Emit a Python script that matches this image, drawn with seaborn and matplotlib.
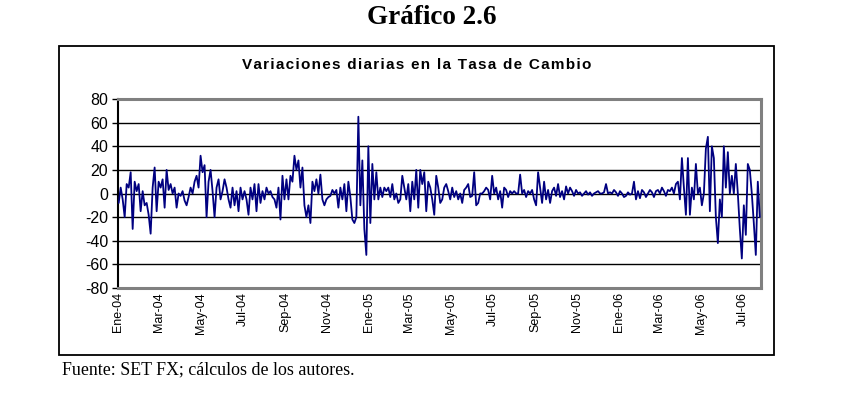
import numpy as np
import pandas as pd
import matplotlib
matplotlib.use("Agg")
import matplotlib.pyplot as plt
from matplotlib.patches import Rectangle
import seaborn as sns

# ---- data (one value about every 3 calendar days) ----
seg_2004a = [-8, 5, -5, -20, 8, 5, 18, -30, 10, 2, 8, -15, 2, -10, -8, -18, -34, 5, 22, -15,
             10, 5, 12, -12, 20, 3, 8, 0, 5, -12, 0, -2, 2, -6, -10, -3, 5, 0, 10, 15,
             5, 32, 18, 24, -20, 10, 20, 2, -20, 5, 12, -5, 2, 12]
seg_2004b = [5, -5, -12, 5, -10, 2, -15, 5, -5, 2, -5, -18, 5, -5, 8, -15, 8, -8, 2, -5,
             5, 0, 2, -3, -5, -12, 5, -22, 15, -5, 12, -5, 15, 10, 32, 20, 28, 5, 22, -10,
             -20, -10, -25, 10, 2, 12, 0, 16, -5, -10, -5, -3, -2, 3]
seg_2005a = [0, 3, -12, 5, -5, 8, -15, 10, -3, -22, -25, -20, 65, -10, 28, -30, -52, 40, -25, 25,
             -5, 18, -5, 5, -3, 5, 2, 5, -3, 8, -5, 0, -8, -5, 15, 5, -5, 8, -15, 10,
             -5, 20, -12, 20, 8, 18, -15, 10, 5, -5, -18, 15, 5, -8]
seg_2005b = [-5, 5, 8, 2, -5, 5, -3, 2, -5, 0, -8, 3, 5, 8, -3, -2, 18, -10, -8, 0,
             0, 2, 5, 3, -5, 15, 0, 5, -5, 2, -12, 5, 3, -3, 2, 0, 2, 0, 0, 16,
             0, 3, -3, 2, 0, 3, -5, -10, 18, 5, -8, 10, -5, 3]
seg_2005c = [-8, 2, 5, -2, 8, -3, 2, -5, 6, 0, 5, 2, -2, 3, 0, 1, -2, 0, 2, -1,
             1, -2, 0, 1, 2, 0, 0, 1, 8, 0, 1, 0, 3, 1, -2, 2, 0, -3, -2, 1,
             -1, 0, 10, -5, 2, -4, 3, 1, -3, 0, 3, 1, -3, 2]
seg_2006 = [3, 0, 5, 2, -2, 3, 2, 5, 0, 8, 10, -5, 30, 5, -18, 30, -18, 5, -5, 25,
            0, 5, -10, 0, 38, 48, -15, 40, 30, -20, -42, -5, -20, 40, 5, 35, 0, 15, 0, 25,
            0, -30, -55, -10, -35, 25, 20, 0, -25, -52, 10, -20]
variacion = seg_2004a + seg_2004b + seg_2005a + seg_2005b + seg_2005c + seg_2006

tick_dates = ["2004-01-01", "2004-03-01", "2004-05-01", "2004-07-01", "2004-09-01", "2004-11-01",
              "2005-01-01", "2005-03-01", "2005-05-01", "2005-07-01", "2005-09-01", "2005-11-01",
              "2006-01-01", "2006-03-01", "2006-05-01", "2006-07-01"]
tick_labels = ["Ene-04", "Mar-04", "May-04", "Jul-04", "Sep-04", "Nov-04",
               "Ene-05", "Mar-05", "May-05", "Jul-05", "Sep-05", "Nov-05",
               "Ene-06", "Mar-06", "May-06", "Jul-06"]
y_ticks = [-80, -60, -40, -20, 0, 20, 40, 60, 80]

fechas = pd.date_range("2004-01-02", periods=len(variacion), freq="70h")
df = pd.DataFrame({"fecha": fechas, "variacion": variacion})

# ---- figure ----
sns.set_style("white")
plt.rcParams["axes.unicode_minus"] = False
plt.rcParams["font.family"] = ["Liberation Sans", "DejaVu Sans"]
plt.rcParams["text.color"] = "black"
plt.rcParams["xtick.color"] = "black"
plt.rcParams["ytick.color"] = "black"
plt.rcParams["xtick.labelcolor"] = "black"
plt.rcParams["ytick.labelcolor"] = "black"

W, H = 854, 394
fig = plt.figure(figsize=(W / 100, H / 100), dpi=100)

def fx(px):
    return px / W

def fy(py):
    return 1 - py / H

# outer frame
fig.patches.append(Rectangle((fx(59), fy(355)), fx(774) - fx(59), fy(46) - fy(355),
                             transform=fig.transFigure, fill=False, edgecolor="black",
                             linewidth=1.3, zorder=0))

ax = fig.add_axes([fx(118), fy(288), fx(761) - fx(118), fy(99) - fy(288)])
ax.set_facecolor("white")

for y in y_ticks:
    ax.axhline(y, color="black", linewidth=1.0, zorder=1)

sns.lineplot(data=df, x="fecha", y="variacion", ax=ax, color="#000080",
             linewidth=1.3, zorder=3)

ax.set_ylim(-80, 80)
ax.set_xlim(pd.Timestamp("2004-01-01"), pd.Timestamp("2006-07-28"))
ax.set_yticks(y_ticks)
ax.set_yticklabels([str(v) for v in y_ticks], fontsize=11.5, color="black")
ax.set_xticks(pd.to_datetime(tick_dates))
ax.set_xticklabels(tick_labels, rotation=90, fontsize=9, color="black")
ax.tick_params(axis="y", length=4, width=1, color="black", pad=3, left=True)
ax.tick_params(axis="x", length=0, pad=3)
ax.set_xlabel("")
ax.set_ylabel("")

for side in ["top", "right", "bottom"]:
    ax.spines[side].set_color("#808080")
    ax.spines[side].set_linewidth(2.2)
    ax.spines[side].set_visible(True)
ax.spines["left"].set_color("black")
ax.spines["left"].set_linewidth(1.5)
ax.spines["left"].set_visible(True)

fig.text(fx(432), fy(18), "Gráfico 2.6", ha="center", va="center", color="black",
         fontsize=19.5, fontweight="bold", family=["Liberation Serif", "DejaVu Serif"])

# inner title: letter-spaced like the reference
titulo = "Variaciones diarias en la Tasa de Cambio"
espaciado = "\u200a".join(titulo)
fig.text(fx(417), fy(65), espaciado, ha="center", va="center", fontsize=11,
         fontweight="bold", color="black", family=["Liberation Sans", "DejaVu Sans"])
fig.text(fx(62), fy(370), "Fuente: SET FX; cálculos de los autores.", ha="left",
         va="center", fontsize=12.9, color="black",
         family=["Liberation Serif", "DejaVu Serif"])

fig.savefig("out.png", dpi=100)
